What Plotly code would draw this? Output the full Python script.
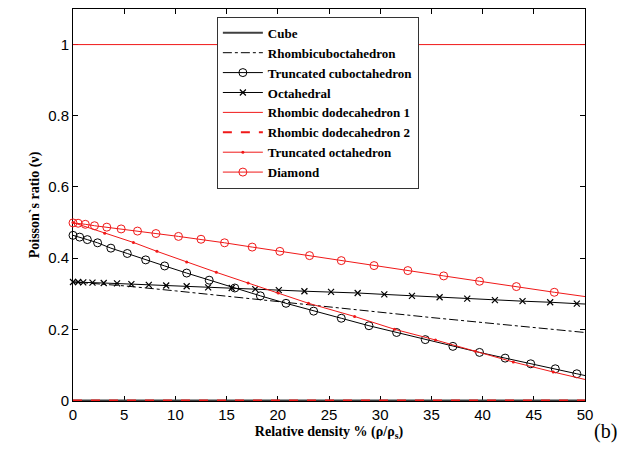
import plotly.graph_objects as go

# ---- data ----
cube_x = [0, 50]
cube_y = [0, 0]

rhombi_x = [0, 5, 10, 15, 20, 25, 30, 35, 40, 45, 50]
rhombi_y = [0.333, 0.322, 0.308, 0.293, 0.277, 0.262, 0.246, 0.233, 0.219, 0.205, 0.191]

tcub_x = [0.0, 0.65, 1.4, 2.4, 3.7, 5.3, 7.1, 8.95, 11.1, 13.3, 15.8, 18.3, 20.8, 23.5,
          26.2, 28.9, 31.6, 34.4, 37.1, 39.7, 42.2, 44.7, 47.1, 49.2]
tcub_y = [0.464, 0.459, 0.452, 0.443, 0.428, 0.413, 0.395, 0.378, 0.358, 0.338, 0.316, 0.294,
          0.273, 0.251, 0.231, 0.210, 0.191, 0.171, 0.152, 0.135, 0.119, 0.103, 0.089, 0.075]
tcub_end_x = [49.2, 50]
tcub_end_y = [0.075, 0.070]

octa_x = [0.0, 0.5, 1.0, 1.9, 3.0, 4.3, 5.7, 7.4, 9.1, 11.1, 13.2, 15.5, 17.8, 20.1, 22.6,
          25.2, 27.8, 30.4, 33.1, 35.8, 38.5, 41.2, 43.9, 46.6, 49.2]
octa_y = [0.333, 0.333, 0.332, 0.331, 0.330, 0.329, 0.327, 0.325, 0.323, 0.321, 0.318, 0.316,
          0.313, 0.310, 0.307, 0.305, 0.302, 0.298, 0.294, 0.290, 0.286, 0.282, 0.279, 0.276, 0.272]
octa_end_x = [49.2, 50]
octa_end_y = [0.272, 0.271]

rd1_x = [0, 50]
rd1_y = [1, 1]
rd2_x = [0, 50]
rd2_y = [0, 0]

toct_x = [0, 3.1, 5.9, 8.2, 11.1, 14.0, 17.1, 20.05, 23.0, 27.5, 31.4, 35.4, 39.3, 43.0, 46.9]
toct_y = [0.500, 0.470, 0.444, 0.419, 0.389, 0.360, 0.330, 0.302, 0.273, 0.236, 0.200, 0.170,
          0.138, 0.108, 0.080]
toct_end_x = [46.9, 50]
toct_end_y = [0.080, 0.059]

dia_x = [0.0, 0.5, 1.2, 2.1, 3.3, 4.7, 6.3, 8.1, 10.3, 12.5, 14.8, 17.5, 20.2, 23.1, 26.2,
         29.4, 32.7, 36.2, 39.7, 43.3, 47.0]
dia_y = [0.499, 0.498, 0.495, 0.491, 0.487, 0.482, 0.476, 0.469, 0.461, 0.453, 0.443, 0.431,
         0.419, 0.407, 0.393, 0.379, 0.365, 0.350, 0.335, 0.320, 0.304]
dia_end_x = [47.0, 50]
dia_end_y = [0.304, 0.292]

x_ticks = [0, 5, 10, 15, 20, 25, 30, 35, 40, 45, 50]
y_ticks = [0, 0.2, 0.4, 0.6, 0.8, 1]
y_ticktext = ["0", "0.2", "0.4", "0.6", "0.8", "1"]

RED = "#f01818"
BLK = "#000000"

fig = go.Figure()

fig.add_trace(go.Scatter(x=cube_x, y=cube_y, mode="lines", name="Cube",
                         line=dict(color="#404040", width=2)))
fig.add_trace(go.Scatter(x=rhombi_x, y=rhombi_y, mode="lines", name="Rhombicuboctahedron",
                         line=dict(color=BLK, width=1, dash="dashdot")))
fig.add_trace(go.Scatter(x=tcub_x, y=tcub_y, mode="lines+markers", name="Truncated cuboctahedron",
                         line=dict(color=BLK, width=1), cliponaxis=False,
                         marker=dict(symbol="circle-open", size=8, color=BLK, line=dict(width=1))))
fig.add_trace(go.Scatter(x=tcub_end_x, y=tcub_end_y, mode="lines", showlegend=False,
                         line=dict(color=BLK, width=1)))
fig.add_trace(go.Scatter(x=octa_x, y=octa_y, mode="lines+markers", name="Octahedral",
                         line=dict(color=BLK, width=1), cliponaxis=False,
                         marker=dict(symbol="x-thin-open", size=6, color=BLK, line=dict(width=1.2, color=BLK))))
fig.add_trace(go.Scatter(x=octa_end_x, y=octa_end_y, mode="lines", showlegend=False,
                         line=dict(color=BLK, width=1)))
fig.add_trace(go.Scatter(x=rd1_x, y=rd1_y, mode="lines", name="Rhombic dodecahedron 1",
                         line=dict(color=RED, width=1)))
fig.add_trace(go.Scatter(x=rd2_x, y=rd2_y, mode="lines", name="Rhombic dodecahedron 2",
                         line=dict(color=RED, width=2, dash="dash")))
fig.add_trace(go.Scatter(x=toct_x, y=toct_y, mode="lines+markers", name="Truncated octahedron",
                         line=dict(color=RED, width=1), cliponaxis=False,
                         marker=dict(symbol="circle", size=3, color=RED)))
fig.add_trace(go.Scatter(x=toct_end_x, y=toct_end_y, mode="lines", showlegend=False,
                         line=dict(color=RED, width=1)))
fig.add_trace(go.Scatter(x=dia_x, y=dia_y, mode="lines+markers", name="Diamond",
                         line=dict(color=RED, width=1), cliponaxis=False,
                         marker=dict(symbol="circle-open", size=8, color=RED, line=dict(width=1))))
fig.add_trace(go.Scatter(x=dia_end_x, y=dia_end_y, mode="lines", showlegend=False,
                         line=dict(color=RED, width=1)))

axis_common = dict(showline=True, linecolor=BLK, linewidth=1, mirror="ticks",
                   ticks="inside", ticklen=5, tickcolor=BLK, showgrid=False, zeroline=False,
                   layer="below traces",
                   tickfont=dict(family="Liberation Sans, Arial", size=15, color=BLK))

fig.update_layout(
    width=641, height=459,
    margin=dict(l=73, r=56, t=9, b=58),
    paper_bgcolor="white", plot_bgcolor="white",
    xaxis=dict(range=[0, 50], tickvals=x_ticks,
               title=dict(text="Relative density % (ρ/ρ<sub>s</sub>)", standoff=4,
                          font=dict(family="Liberation Serif, Times New Roman", size=14,
                                    color=BLK, weight="bold")),
               **axis_common),
    yaxis=dict(range=[-0.0015, 1.1], tickvals=y_ticks, ticktext=y_ticktext,
               title=dict(text="Poisson`s ratio (ν)", standoff=5,
                          font=dict(family="Liberation Serif, Times New Roman", size=14,
                                    color=BLK, weight="bold")),
               **axis_common),
    legend=dict(x=0.281, y=0.98, xanchor="left", yanchor="top",
                bgcolor="white", bordercolor="#333333", borderwidth=1,
                itemwidth=40, tracegroupgap=0,
                font=dict(family="Liberation Serif, Times New Roman", size=13,
                          color=BLK, weight="bold")),
    annotations=[dict(text="(b)", xref="paper", yref="paper", x=1.041, y=-0.079,
                      showarrow=False, xanchor="center", yanchor="middle",
                      font=dict(family="Liberation Serif, Times New Roman", size=20, color=BLK))],
)

fig.write_html("out.html")
